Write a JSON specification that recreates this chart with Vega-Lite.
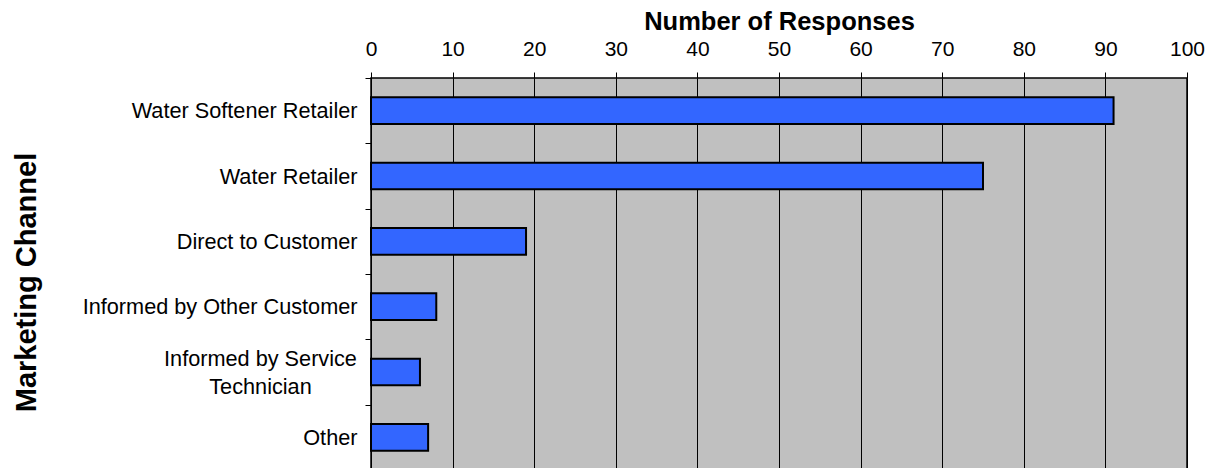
{
  "$schema": "https://vega.github.io/schema/vega-lite/v6.json",
  "autosize": {"type": "none"},
  "padding": {"left": 371, "top": 78, "right": 28, "bottom": 0},
  "width": 816,
  "height": 392,
  "background": "white",
  "config": {
    "font": "Liberation Sans",
    "view": {"fill": "#C0C0C0", "stroke": "black", "strokeWidth": 1.5}
  },
  "data": {
    "values": [
      {"channel": "Water Softener Retailer", "responses": 91},
      {"channel": "Water Retailer", "responses": 75},
      {"channel": "Direct to Customer", "responses": 19},
      {"channel": "Informed by Other Customer", "responses": 8},
      {"channel": "Informed by Service Technician", "responses": 6},
      {"channel": "Other", "responses": 7}
    ]
  },
  "mark": {
    "type": "bar",
    "fill": "#3366FF",
    "stroke": "black",
    "strokeWidth": 2,
    "height": {"band": 0.407}
  },
  "encoding": {
    "x": {
      "field": "responses",
      "type": "quantitative",
      "scale": {"domain": [0, 100], "nice": false},
      "axis": {
        "orient": "top",
        "title": "Number of Responses",
        "values": [0, 10, 20, 30, 40, 50, 60, 70, 80, 90, 100],
        "grid": true,
        "gridColor": "black",
        "gridOpacity": 1,
        "gridWidth": 1,
        "domain": false,
        "ticks": true,
        "tickColor": "black",
        "tickSize": 6,
        "labelFlush": false,
        "labelFontSize": 21,
        "labelColor": "black",
        "labelPadding": 13,
        "titleFontSize": 25.5,
        "titleFontWeight": "bold",
        "titleColor": "black",
        "titleBaseline": "alphabetic",
        "titleY": -49
      }
    },
    "y": {
      "field": "channel",
      "type": "nominal",
      "sort": null,
      "scale": {"paddingInner": 0, "paddingOuter": 0},
      "axis": {
        "title": "Marketing Channel",
        "domain": false,
        "grid": false,
        "tickBand": "extent",
        "tickColor": "black",
        "tickSize": 6,
        "labelFontSize": 21.7,
        "labelColor": "black",
        "labelPadding": {
          "condition": {"test": "datum.value === 'Informed by Service Technician'", "value": 105},
          "value": 8
        },
        "labelAlign": {
          "condition": {"test": "datum.value === 'Informed by Service Technician'", "value": "center"},
          "value": "right"
        },
        "labelLimit": 400,
        "labelLineHeight": 28,
        "labelOffset": {
          "condition": {"test": "datum.value === 'Informed by Service Technician'", "value": -14},
          "value": 0
        },
        "labelExpr": "datum.value === 'Informed by Service Technician' ? ['Informed by Service', 'Technician'] : datum.label",
        "titleFontSize": 29,
        "titleFontWeight": "bold",
        "titleColor": "black",
        "titleAngle": -90,
        "titleAlign": "center",
        "titleBaseline": "middle",
        "titleX": -345,
        "titleY": 204
      }
    }
  }
}
